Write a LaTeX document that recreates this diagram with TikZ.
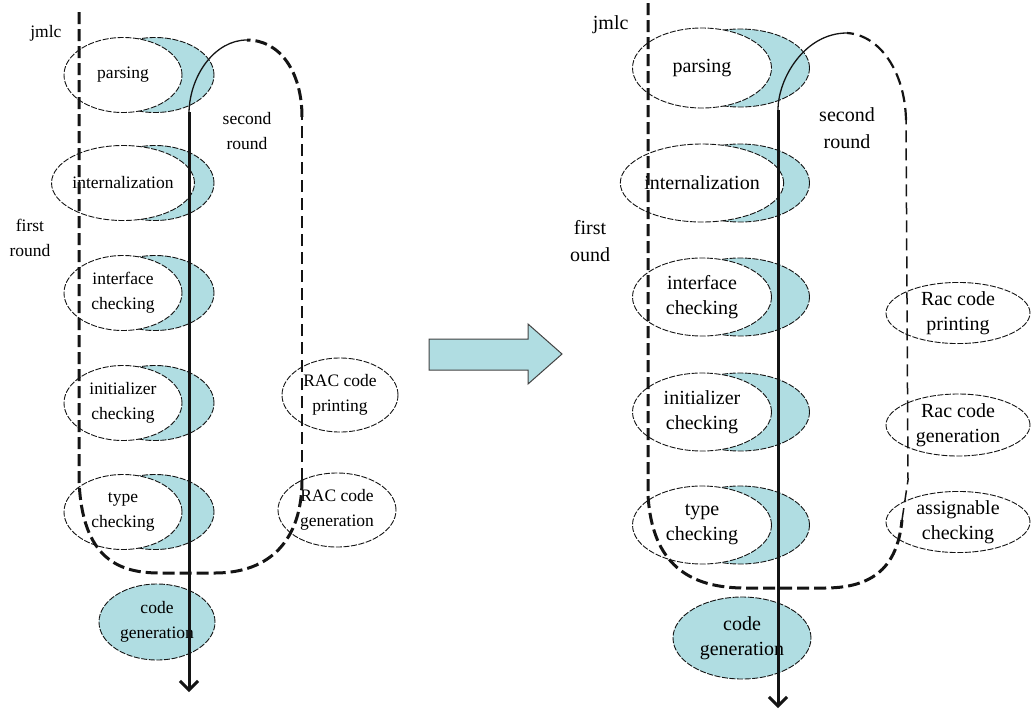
\documentclass[tikz,border=0pt]{standalone}
\usepackage{fontspec}
\setmainfont{Liberation Serif}
\usetikzlibrary{shapes.geometric,arrows.meta}
\definecolor{crescent}{RGB}{176,221,226}
\definecolor{ink}{RGB}{20,20,20}
\begin{document}
\begin{tikzpicture}[x=1pt,y=-1pt,
  outline/.style={draw=ink, line width=0.9pt, dash pattern=on 6pt off 1.6pt},
  oval/.style={ellipse, outline, inner sep=0pt, align=center},
  stageL/.style={oval, fill=white, minimum width=118pt, minimum height=75pt, font=\fontsize{17.5}{25}\selectfont},
  shadeL/.style={oval, fill=crescent, minimum width=118pt, minimum height=75pt},
  stageR/.style={oval, fill=white, minimum width=139pt, minimum height=78pt, font=\fontsize{20}{25}\selectfont},
  shadeR/.style={oval, fill=crescent, minimum width=139pt, minimum height=78pt},
  labL/.style={align=center, font=\fontsize{17.5}{25}\selectfont},
  labR/.style={align=center, font=\fontsize{20}{27}\selectfont},
  roundpath/.style={draw=ink, line width=3pt, dash pattern=on 12pt off 5pt},
  roundthin/.style={draw=ink, line width=2pt, dash pattern=on 12pt off 6pt},
  flow/.style={draw=ink, line width=3pt, -{Straight Barb[length=9pt,width=18pt]}},
  hook/.style={draw=ink, line width=1.3pt}
]
\useasboundingbox (0,0) rectangle (1031,713);

% ---------- left pipeline ----------
\foreach \n/\y in {a/75,b/183,c/293,d/403,e/512}
  \node[shadeL] (ls\n) at (155,\y) {};
\node[stageL] (lp) at (123,75) {parsing};
\node[stageL] (li) at (123,183) {internalization};
\node[stageL] (lf) at (123,293) {interface\\checking};
\node[stageL] (ln) at (123,403) {initializer\\checking};
\node[stageL] (lt) at (123,512) {type\\checking};
\node[oval, fill=crescent, minimum width=116pt, minimum height=76pt, font=\fontsize{17.5}{25}\selectfont] (lg) at (157,622) {code\\generation};
\node[oval, fill=white, minimum width=116pt, minimum height=74pt, font=\fontsize{17.5}{25}\selectfont] (lrp) at (340,395) {RAC code\\printing};
\node[oval, fill=white, minimum width=118pt, minimum height=74pt, font=\fontsize{17.5}{25}\selectfont] (lrg) at (337,510) {RAC code\\generation};

\coordinate (lTop) at (79,12);
\coordinate (lDown) at (79,480);
\coordinate (lB1) at (160,573);
\coordinate (lB2) at (215,573);
\coordinate (lUp) at (302,480);
\coordinate (lHi) at (302,117);
\coordinate (lPeak) at (247,40);
\coordinate (lStart) at (189,112);
\coordinate (lEnd) at (189,692);

\path[roundpath] (lTop) -- (lDown) .. controls (82,560) and (120,573) .. (lB1) -- (lB2)
  .. controls (270,573) and (302,540) .. (lUp);
\path[roundthin] (lUp) -- (lHi);
\path[roundpath] (lHi) .. controls (302,72) and (280,40) .. (lPeak);
\path[hook] (lPeak) .. controls (215,40) and (190,75) .. (lStart);
\path[flow] (lStart) -- (lEnd);

\node[labL, anchor=east] (ljmlc) at (65,33) {jmlc};
\node[labL] (lfirst) at (30,238) {first\\round};
\node[labL] (lsecond) at (247,131) {second\\round};

% ---------- transition arrow ----------
\filldraw[fill=crescent, draw=ink!80, line width=1pt]
  (429,339) -- (528,339) -- (528,324) -- (562,354) -- (528,384) -- (528,370) -- (429,370) -- cycle;

% ---------- right pipeline ----------
\foreach \n/\y in {a/68,b/183,c/297,d/412,e/525}
  \node[shadeR] (rs\n) at (740,\y) {};
\node[stageR, minimum height=80pt] (rp) at (702,68) {parsing};
\node[stageR] (ri) at (702,183) {internalization};
\node[stageR] (rf) at (702,297) {interface\\checking};
\node[stageR] (rn) at (702,412) {initializer\\checking};
\node[stageR] (rt) at (702,525) {type\\checking};
\node[oval, fill=crescent, minimum width=138pt, minimum height=82pt, font=\fontsize{20}{25}\selectfont] (rg) at (742,638) {code\\generation};
\node[oval, fill=white, minimum width=144pt, minimum height=56pt, font=\fontsize{20}{25}\selectfont] (rrp) at (958,313) {Rac code\\printing};
\node[oval, fill=white, minimum width=144pt, minimum height=62pt, font=\fontsize{20}{25}\selectfont] (rrg) at (958,425) {Rac code\\generation};
\node[oval, fill=white, minimum width=144pt, minimum height=60pt, font=\fontsize{20}{25}\selectfont] (rac) at (958,522) {assignable\\checking};

\coordinate (rTop) at (648,3);
\coordinate (rDown) at (648,495);
\coordinate (rB1) at (745,588);
\coordinate (rB2) at (825,588);
\coordinate (rUp) at (902,520);
\coordinate (rMid) at (908,480);
\coordinate (rHi) at (906,120);
\coordinate (rPeak) at (847,33);
\coordinate (rStart) at (778,110);
\coordinate (rEnd) at (778,708);

\path[roundpath] (rTop) -- (rDown) .. controls (652,565) and (690,588) .. (rB1) -- (rB2)
  .. controls (880,588) and (898,560) .. (rUp);
\path[draw=ink, line width=1.5pt, dash pattern=on 12pt off 6pt] (rUp) -- (rMid) -- (rHi);
\path[draw=ink, line width=2.2pt, dash pattern=on 12pt off 6pt] (rHi) .. controls (905,72) and (880,35) .. (rPeak);
\path[hook] (rPeak) .. controls (805,33) and (778,78) .. (rStart);
\path[flow] (rStart) -- (rEnd);

\node[labR, anchor=east] (rjmlc) at (632,25) {jmlc};
\node[labR] (rfirst) at (590,241) {first\\ound};
\node[labR] (rsecond) at (847,128) {second\\round};
\end{tikzpicture}
\end{document}
